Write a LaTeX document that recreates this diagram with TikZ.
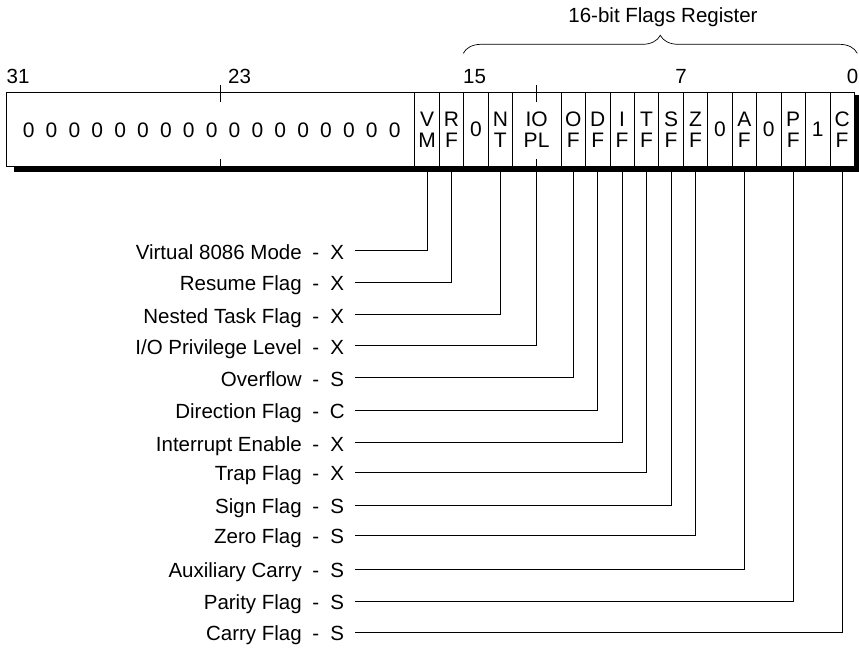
\documentclass[tikz,border=0pt]{standalone}
\usepackage{fontspec}
\setmainfont{Liberation Sans}
\usetikzlibrary{decorations.pathreplacing}
\newcommand\labfont{\fontsize{20.5}{21}\selectfont}
\newcommand\cellfont{\fontsize{21}{21}\selectfont}
\newcommand\zz{\hspace{11.2pt}0}
\newcommand\tail[1]{\makebox[28pt]{-}\makebox[15pt]{#1}}
\begin{document}
\begin{tikzpicture}[x=1pt,y=-1pt,
  cell/.style={draw, line width=0.7pt, fill=white, minimum width=24.44pt, minimum height=74.4pt, inner sep=0pt, align=center, font=\cellfont},
  conn/.style={draw, line width=0.7pt},
  tick/.style={draw, line width=0.7pt},
  lbl/.style={anchor=base east, inner sep=0pt, font=\labfont},
  num/.style={inner sep=0pt, font=\labfont}]
\useasboundingbox (0,0) rectangle (859,649);
% shadow
\fill[black] (14,95) rectangle (859,172.3);
% left block
\node[cell, minimum width=407.7pt] (hi) at (210.55,129.5) {};
\node[inner sep=0pt, font=\cellfont] (zeros) at (211.7,130) {0\zz\zz\zz\zz\zz\zz\zz\zz\zz\zz\zz\zz\zz\zz\zz\zz};
% flag cells
\node[cell] (vm) at (427.02,129.5) {V\\M};
\node[cell] (rf) at (451.46,129.5) {R\\F};
\node[cell] (z15) at (475.90,129.5) {0};
\node[cell] (nt) at (500.34,129.5) {N\\T};
\node[cell, minimum width=48.88pt] (iopl) at (536.58,129.5) {IO\\PL};
\node[cell] (of) at (573.24,129.5) {O\\F};
\node[cell] (df) at (597.68,129.5) {D\\F};
\node[cell] (iflag) at (622.12,129.5) {I\\F};
\node[cell] (tf) at (646.56,129.5) {T\\F};
\node[cell] (sf) at (671.00,129.5) {S\\F};
\node[cell] (zf) at (695.44,129.5) {Z\\F};
\node[cell] (z5) at (719.88,129.5) {0};
\node[cell] (af) at (744.32,129.5) {A\\F};
\node[cell] (z3) at (768.76,129.5) {0};
\node[cell] (pf) at (793.20,129.5) {P\\F};
\node[cell] (one) at (817.64,129.5) {1};
\node[cell] (cf) at (842.08,129.5) {C\\F};
% ticks
\draw[tick] (220.3,85) -- (220.3,101.7);
\draw[tick] (220.3,159) -- (220.3,166.7);
\draw[tick] (536.58,85) -- (536.58,101.7);
\draw[tick] (536.58,159) -- (536.58,166.7);
% bit numbers
\node[num, anchor=base west] (n31) at (6.5,83.5) {31};
\node[num, anchor=base west] (n23) at (228,83.5) {23};
\node[num, anchor=base west] (n15) at (463,83.5) {15};
\node[num, anchor=base] (n7) at (681,83.5) {7};
\node[num, anchor=base] (n0) at (852.5,83.5) {0};
% brace and title
\draw[line width=0.7pt, decorate, decoration={brace, amplitude=18pt}] (463.3,53.3) -- (857.3,53.3);
\node[num, anchor=base] (title) at (663,22.7) {16-bit Flags Register};
% line ends
\coordinate (e1) at (355,250.7);
\coordinate (e2) at (355,282);
\coordinate (e3) at (355,314.7);
\coordinate (e4) at (355,345.7);
\coordinate (e5) at (355,377.7);
\coordinate (e6) at (355,410);
\coordinate (e7) at (355,442.7);
\coordinate (e8) at (355,472.3);
\coordinate (e9) at (355,505.3);
\coordinate (e10) at (355,535.3);
\coordinate (e11) at (355,569.3);
\coordinate (e12) at (355,601.3);
\coordinate (e13) at (355,632);
% labels
\node[lbl] (t1) at (345,259.3) {Virtual 8086 Mode\tail{X}};
\node[lbl] (t2) at (345,290.6) {Resume Flag\tail{X}};
\node[lbl] (t3) at (345,323.3) {Nested Task Flag\tail{X}};
\node[lbl] (t4) at (345,354.3) {I/O Privilege Level\tail{X}};
\node[lbl] (t5) at (345,386.3) {Overflow\tail{S}};
\node[lbl] (t6) at (345,418.6) {Direction Flag\tail{C}};
\node[lbl] (t7) at (345,451.3) {Interrupt Enable\tail{X}};
\node[lbl] (t8) at (345,480.9) {Trap Flag\tail{X}};
\node[lbl] (t9) at (345,513.9) {Sign Flag\tail{S}};
\node[lbl] (t10) at (345,543.9) {Zero Flag\tail{S}};
\node[lbl] (t11) at (345,577.9) {Auxiliary Carry\tail{S}};
\node[lbl] (t12) at (345,609.9) {Parity Flag\tail{S}};
\node[lbl] (t13) at (345,640.6) {Carry Flag\tail{S}};
% connectors
\draw[conn] (vm.south) |- (e1);
\draw[conn] (rf.south) |- (e2);
\draw[conn] (nt.south) |- (e3);
\draw[conn] (iopl.south) |- (e4);
\draw[conn] (of.south) |- (e5);
\draw[conn] (df.south) |- (e6);
\draw[conn] (iflag.south) |- (e7);
\draw[conn] (tf.south) |- (e8);
\draw[conn] (sf.south) |- (e9);
\draw[conn] (zf.south) |- (e10);
\draw[conn] (af.south) |- (e11);
\draw[conn] (pf.south) |- (e12);
\draw[conn] (cf.south) |- (e13);
\end{tikzpicture}
\end{document}
